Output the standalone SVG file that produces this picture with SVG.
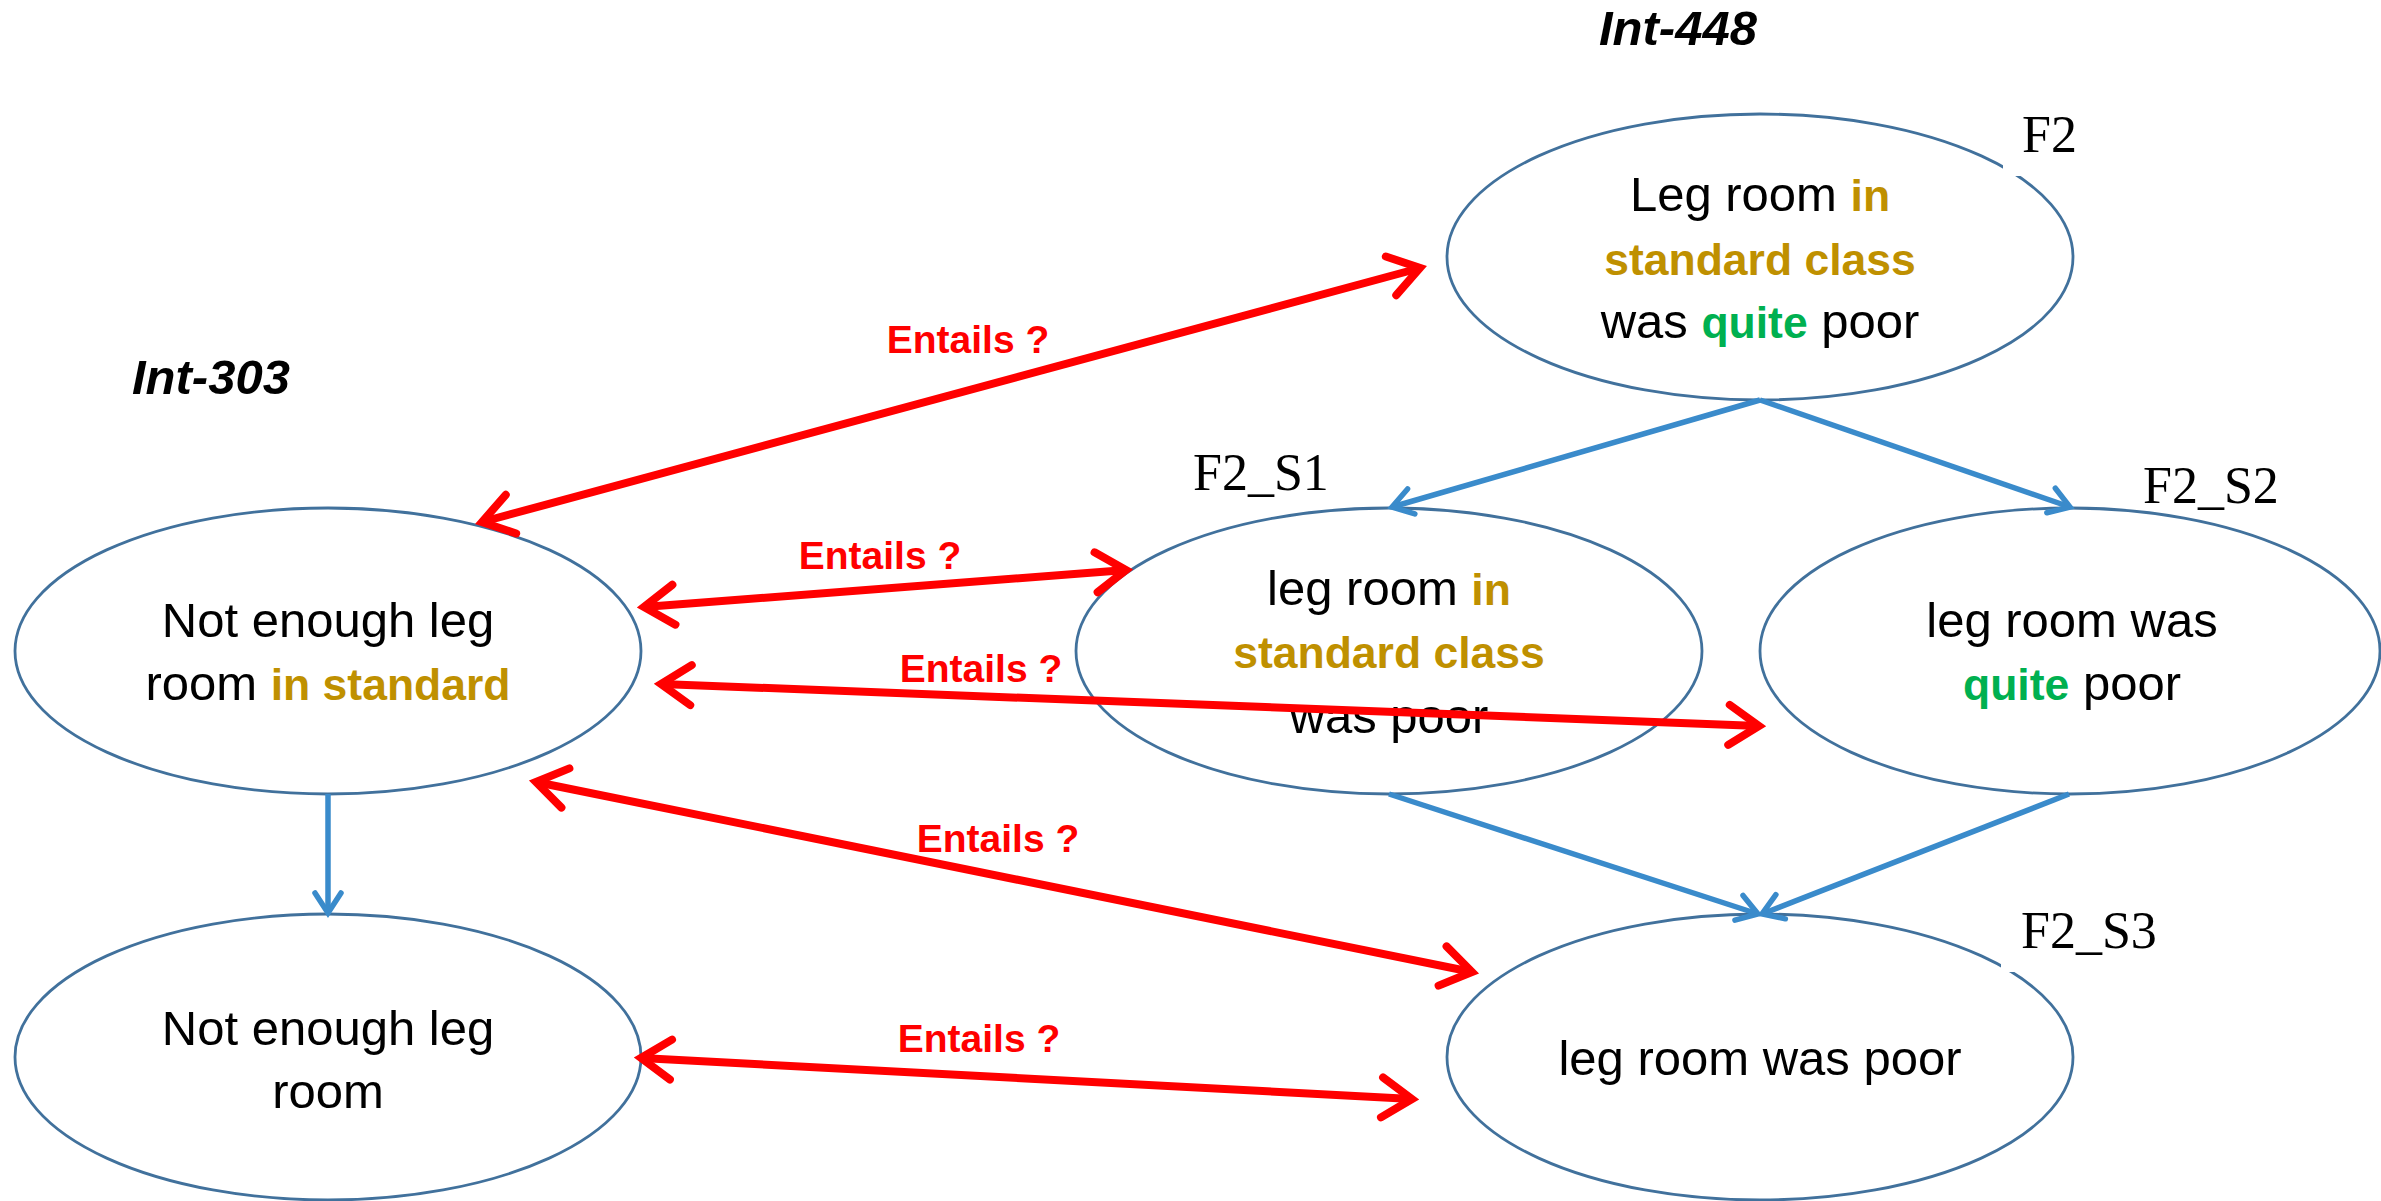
<svg xmlns="http://www.w3.org/2000/svg" width="2381" height="1201" viewBox="0 0 2381 1201">
  <style>
    .node { fill: #ffffff; stroke: #41719c; stroke-width: 2.8; }
    .txt { font-family: "Liberation Sans", Arial, sans-serif; font-size: 49px; fill: #000000; text-anchor: middle; }
    .gold { fill: #bf9000; font-weight: bold; font-size: 44.5px; }
    .green { fill: #00b050; font-weight: bold; font-size: 44.5px; }
    .tag { font-family: "Liberation Serif", "Times New Roman", serif; font-size: 52px; fill: #000000; }
    .group { font-family: "Liberation Sans", Arial, sans-serif; font-size: 49px; font-weight: bold; font-style: italic; fill: #000000; }
    .rel { font-family: "Liberation Sans", Arial, sans-serif; font-size: 39px; font-weight: bold; fill: #ff0000; text-anchor: middle; }
    .blue { fill: none; stroke: #3a8bcb; stroke-width: 5.5; marker-end: url(#headBlue); }
    .red { fill: none; stroke: #ff0000; stroke-width: 8; marker-start: url(#headRed); marker-end: url(#headRed); }
  </style>
  <defs>
    <marker id="headBlue" markerUnits="userSpaceOnUse" orient="auto-start-reverse" refX="0" refY="0" markerWidth="40" markerHeight="40" overflow="visible">
      <path d="M-20,-13 L0,0 L-20,13" fill="none" stroke="#3a8bcb" stroke-width="5.5" stroke-linecap="round" stroke-linejoin="miter"/>
    </marker>
    <marker id="headRed" markerUnits="userSpaceOnUse" orient="auto-start-reverse" refX="0" refY="0" markerWidth="60" markerHeight="60" overflow="visible">
      <path d="M-30,-20 L0,0 L-30,20" fill="none" stroke="#ff0000" stroke-width="8" stroke-linecap="round" stroke-linejoin="miter"/>
    </marker>
  </defs>
  <rect x="0" y="0" width="2381" height="1201" fill="#ffffff"/>

  <!-- group headings -->
  <text class="group" x="1599" y="45">Int-448</text>
  <text class="group" x="132" y="394">Int-303</text>

  <!-- nodes -->
  <g id="F2">
    <ellipse class="node" cx="1760" cy="257" rx="313" ry="143"/>
    <rect x="2003" y="105" width="90" height="71" fill="#ffffff"/>
    <text class="tag" x="2022" y="152">F2</text>
    <text class="txt" x="1760" y="211">Leg room <tspan class="gold">in</tspan></text>
    <text class="txt" x="1760" y="275"><tspan class="gold">standard class</tspan></text>
    <text class="txt" x="1760" y="338">was <tspan class="green">quite</tspan> poor</text>
  </g>

  <g id="Int303">
    <ellipse class="node" cx="328" cy="651" rx="313" ry="143"/>
    <text class="txt" x="328" y="637">Not enough leg</text>
    <text class="txt" x="328" y="700">room <tspan class="gold">in standard</tspan></text>
  </g>

  <g id="Int303_base">
    <ellipse class="node" cx="328" cy="1057" rx="313" ry="143"/>
    <text class="txt" x="328" y="1045">Not enough leg</text>
    <text class="txt" x="328" y="1108">room</text>
  </g>

  <g id="F2_S1">
    <ellipse class="node" cx="1389" cy="651" rx="313" ry="143"/>
    <text class="tag" x="1193" y="490">F2_S1</text>
    <text class="txt" x="1389" y="605">leg room <tspan class="gold">in</tspan></text>
    <text class="txt" x="1389" y="668"><tspan class="gold">standard class</tspan></text>
    <text class="txt" x="1389" y="733">was poor</text>
  </g>

  <g id="F2_S2">
    <ellipse class="node" cx="2070" cy="651" rx="310" ry="143"/>
    <text class="tag" x="2143" y="503">F2_S2</text>
    <text class="txt" x="2072" y="637">leg room was</text>
    <text class="txt" x="2072" y="700"><tspan class="green">quite</tspan> poor</text>
  </g>

  <g id="F2_S3">
    <ellipse class="node" cx="1760" cy="1057" rx="313" ry="143"/>
    <rect x="2001" y="905" width="150" height="67" fill="#ffffff"/>
    <text class="tag" x="2021" y="948">F2_S3</text>
    <text class="txt" x="1760" y="1075">leg room was poor</text>
  </g>

  <!-- connectors -->
  <g id="connectors">
    <!-- derivations (blue) -->
    <line class="blue" x1="1760" y1="400" x2="1392" y2="507"/>
    <line class="blue" x1="1760" y1="400" x2="2070" y2="507"/>
    <line class="blue" x1="1389" y1="794" x2="1758" y2="914"/>
    <line class="blue" x1="2069" y1="794" x2="1762" y2="914"/>
    <line class="blue" x1="328" y1="794" x2="328" y2="913"/>

    <!-- entailment questions (red, two-headed) -->
    <line class="red" x1="482" y1="522" x2="1420" y2="268"/>
    <line class="red" x1="644" y1="607" x2="1126" y2="570"/>
    <line class="red" x1="661" y1="684" x2="1759" y2="726"/>
    <line class="red" x1="536" y1="782" x2="1472" y2="972"/>
    <line class="red" x1="641" y1="1058" x2="1412" y2="1099"/>

    <text class="rel" x="968" y="353">Entails ?</text>
    <text class="rel" x="880" y="569">Entails ?</text>
    <text class="rel" x="981" y="682">Entails ?</text>
    <text class="rel" x="998" y="852">Entails ?</text>
    <text class="rel" x="979" y="1052">Entails ?</text>
  </g>
</svg>
